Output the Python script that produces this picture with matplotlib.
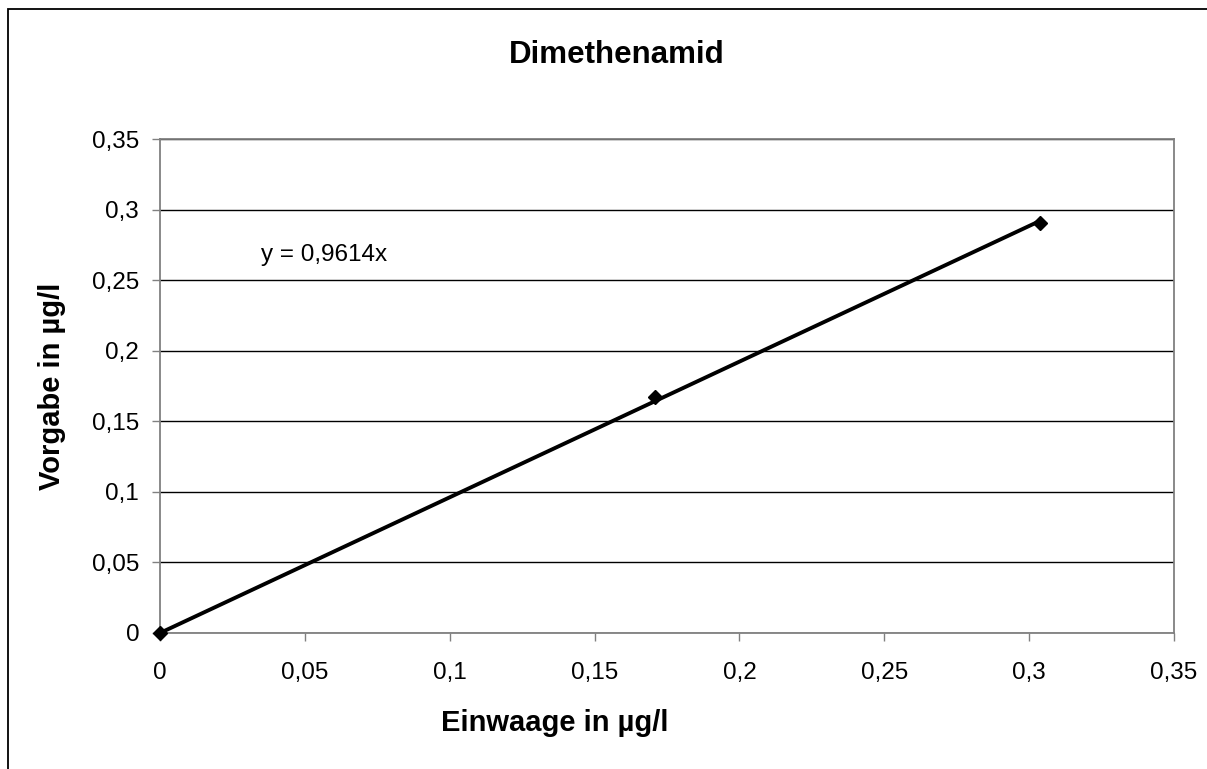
import matplotlib
matplotlib.use("Agg")
import matplotlib.pyplot as plt
from matplotlib.patches import Rectangle
from matplotlib.ticker import FuncFormatter

plt.rcParams['font.family'] = ['Liberation Sans', 'DejaVu Sans']

# Messwerte
einwaage = [0.0, 0.171, 0.3037]
vorgabe = [0.0, 0.1675, 0.2905]
steigung = 0.9614
ticks = [0, 0.05, 0.1, 0.15, 0.2, 0.25, 0.3, 0.35]

fig = plt.figure(figsize=(12.07, 7.69), dpi=100)
ax = fig.add_axes([0.1326, 0.1769, 0.8401, 0.6423])

# Trendlinie durch den Ursprung
x_fit = [0.0, max(einwaage)]
y_fit = [steigung * v for v in x_fit]
ax.plot(x_fit, y_fit, color='black', lw=2.8, zorder=3, solid_capstyle='butt')
ax.plot(einwaage, vorgabe, linestyle='none', marker='D', markersize=7.5,
        color='black', zorder=4, clip_on=False)

ax.set_xlim(0, 0.35)
ax.set_ylim(0, 0.35)
ax.set_xticks(ticks)
ax.set_yticks(ticks)
fmt = FuncFormatter(lambda v, p: ('%g' % round(v, 2)).replace('.', ','))
ax.xaxis.set_major_formatter(fmt)
ax.yaxis.set_major_formatter(fmt)
ax.tick_params(axis='both', labelsize=17.5, direction='out', length=6,
               width=1, color='#808080')
ax.tick_params(axis='y', pad=9)
ax.tick_params(axis='x', pad=15)
ax.grid(axis='y', color='black', lw=1)
ax.set_axisbelow(True)
for s in ax.spines.values():
    s.set_color('#808080')
    s.set_linewidth(1.3)

ax.text(0.035, 0.268, 'y = 0,9614x', fontsize=17.5, va='center')

fig.text(0.511, 0.928, 'Dimethenamid', fontsize=22.5, fontweight='bold',
         ha='center', va='center')
fig.text(0.460, 0.060, 'Einwaage in µg/l', fontsize=21, fontweight='bold',
         ha='center', va='center')
fig.text(0.043, 0.498, 'Vorgabe in µg/l', fontsize=21, fontweight='bold',
         ha='center', va='center', rotation=90)

# äußerer Rahmen
fig.patches.append(Rectangle((8 / 1207, -0.1), 1.2, 1.1 - 9 / 769,
                             transform=fig.transFigure, fill=False,
                             edgecolor='black', lw=1.3))

fig.savefig('out.png', dpi=100)
